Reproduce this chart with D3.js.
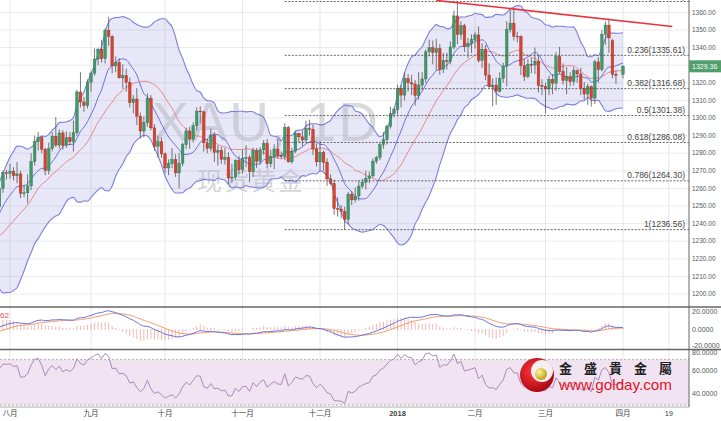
<!DOCTYPE html>
<html><head><meta charset="utf-8">
<script src="https://cdn.jsdelivr.net/npm/d3@7"></script>
<style>body{margin:0;background:#fff;} svg{display:block;font-family:"Liberation Sans",Arial,sans-serif;}</style>
</head><body><svg id="c" width="721" height="421"></svg>
<script>
// ---------- DATA ----------
const dates = [
"2017-07-27","2017-07-28","2017-07-31",
"2017-08-01","2017-08-02","2017-08-03","2017-08-04","2017-08-07","2017-08-08","2017-08-09","2017-08-10","2017-08-11","2017-08-14","2017-08-15","2017-08-16","2017-08-17","2017-08-18","2017-08-21","2017-08-22","2017-08-23","2017-08-24","2017-08-25","2017-08-28","2017-08-29","2017-08-30","2017-08-31",
"2017-09-01","2017-09-04","2017-09-05","2017-09-06","2017-09-07","2017-09-08","2017-09-11","2017-09-12","2017-09-13","2017-09-14","2017-09-15","2017-09-18","2017-09-19","2017-09-20","2017-09-21","2017-09-22","2017-09-25","2017-09-26","2017-09-27","2017-09-28","2017-09-29",
"2017-10-02","2017-10-03","2017-10-04","2017-10-05","2017-10-06","2017-10-09","2017-10-10","2017-10-11","2017-10-12","2017-10-13","2017-10-16","2017-10-17","2017-10-18","2017-10-19","2017-10-20","2017-10-23","2017-10-24","2017-10-25","2017-10-26","2017-10-27","2017-10-30","2017-10-31",
"2017-11-01","2017-11-02","2017-11-03","2017-11-06","2017-11-07","2017-11-08","2017-11-09","2017-11-10","2017-11-13","2017-11-14","2017-11-15","2017-11-16","2017-11-17","2017-11-20","2017-11-21","2017-11-22","2017-11-23","2017-11-24","2017-11-27","2017-11-28","2017-11-29","2017-11-30",
"2017-12-01","2017-12-04","2017-12-05","2017-12-06","2017-12-07","2017-12-08","2017-12-11","2017-12-12","2017-12-13","2017-12-14","2017-12-15","2017-12-18","2017-12-19","2017-12-20","2017-12-21","2017-12-22","2017-12-25","2017-12-26","2017-12-27","2017-12-28","2017-12-29",
"2018-01-01","2018-01-02","2018-01-03","2018-01-04","2018-01-05","2018-01-08","2018-01-09","2018-01-10","2018-01-11","2018-01-12","2018-01-15","2018-01-16","2018-01-17","2018-01-18","2018-01-19","2018-01-22","2018-01-23","2018-01-24","2018-01-25","2018-01-26","2018-01-29","2018-01-30","2018-01-31",
"2018-02-01","2018-02-02","2018-02-05","2018-02-06","2018-02-07","2018-02-08","2018-02-09","2018-02-12","2018-02-13","2018-02-14","2018-02-15","2018-02-16","2018-02-19","2018-02-20","2018-02-21","2018-02-22","2018-02-23","2018-02-26","2018-02-27","2018-02-28",
"2018-03-01","2018-03-02","2018-03-05","2018-03-06","2018-03-07","2018-03-08","2018-03-09","2018-03-12","2018-03-13","2018-03-14","2018-03-15","2018-03-16","2018-03-19","2018-03-20","2018-03-21","2018-03-22","2018-03-23","2018-03-26","2018-03-27","2018-03-28","2018-03-29",
"2018-04-02"];
const open = [1249.5,1259.9,1268.9,
1268.5,1269.6,1267.2,1268.2,1257.2,1257.5,1261.4,1275.2,1286.6,1288.9,1282.2,1270.2,1282.6,1289.6,1284.6,1291.5,1284.5,1288.8,1286.5,1291.6,1314.8,1309.1,1307.1,
1320.4,1325.5,1333.5,1339.0,1333.7,1349.7,1346.4,1329.6,1331.5,1322.8,1324.0,1320.3,1308.8,1310.8,1301.0,1292.6,1297.3,1311.1,1294.4,1283.8,1286.5,
1279.6,1271.6,1274.1,1276.4,1268.8,1274.3,1284.8,1292.6,1288.0,1295.6,1303.9,1303.5,1285.9,1282.8,1290.3,1280.5,1281.6,1276.5,1277.6,1265.9,1266.4,1275.9,
1270.6,1277.2,1277.4,1269.5,1281.4,1275.3,1281.9,1285.6,1274.0,1278.3,1282.4,1278.7,1278.1,1294.7,1275.1,1281.1,1291.3,1289.3,1287.5,1294.1,1293.6,1282.4,
1275.1,1280.5,1274.8,1265.4,1262.9,1248.5,1248.2,1247.0,1242.4,1256.7,1253.5,1255.7,1261.3,1263.5,1265.7,1267.1,1275.5,1277.6,1284.9,1287.8,1295.3,
1302.6,1304.7,1316.8,1313.0,1322.3,1320.0,1319.3,1312.8,1318.7,1322.2,1337.6,1339.9,1337.2,1339.4,1327.7,1332.6,1332.1,1340.3,1358.0,1347.5,1352.4,1340.6,1342.5,
1344.6,1347.2,1332.8,1339.0,1324.4,1317.9,1318.7,1315.2,1322.5,1329.5,1350.2,1353.9,1346.5,1346.2,1329.7,1323.5,1330.5,1330.1,1332.3,1318.4,
1317.9,1316.5,1321.9,1319.8,1334.8,1326.5,1321.3,1323.6,1320.6,1326.9,1325.0,1316.8,1313.6,1317.8,1311.3,1331.9,1327.5,1347.5,1352.8,1344.0,1324.8,
1324.8];
const high = [1264.5,1270.0,1270.5,
1274.0,1272.0,1275.0,1270.0,1262.0,1268.0,1280.0,1290.0,1292.0,1290.0,1283.0,1286.0,1292.0,1300.5,1293.5,1293.0,1292.5,1292.0,1298.5,1316.0,1326.0,1312.0,1322.0,
1326.5,1339.5,1340.0,1344.5,1351.0,1357.5,1347.0,1335.0,1334.0,1330.5,1328.0,1323.0,1313.0,1317.0,1303.0,1301.0,1314.0,1313.0,1296.5,1290.0,1289.0,
1280.5,1276.5,1283.0,1279.5,1280.0,1286.0,1294.5,1295.0,1297.5,1306.0,1306.5,1304.0,1288.0,1294.0,1292.0,1284.5,1283.5,1283.0,1280.5,1274.0,1276.5,1278.5,
1282.0,1284.5,1279.0,1283.0,1283.0,1283.5,1287.5,1288.0,1282.0,1285.0,1288.0,1281.0,1297.0,1295.5,1283.0,1293.0,1291.5,1293.0,1298.5,1299.0,1296.0,1285.5,
1287.0,1281.5,1277.0,1268.0,1265.0,1255.0,1250.5,1249.5,1258.0,1258.5,1260.5,1264.5,1265.5,1270.0,1269.5,1277.0,1278.5,1286.0,1292.0,1296.0,1306.5,
1306.0,1319.0,1318.5,1326.0,1325.0,1324.5,1321.5,1326.0,1326.0,1339.0,1344.5,1344.0,1345.0,1342.0,1337.0,1337.0,1343.5,1361.0,1366.2,1355.0,1353.5,1345.5,1347.5,
1349.0,1352.0,1342.5,1341.5,1331.0,1322.5,1323.0,1326.0,1331.5,1355.0,1361.5,1362.5,1349.0,1347.0,1333.5,1333.5,1334.0,1340.0,1336.0,1322.0,
1320.0,1324.0,1325.0,1337.5,1340.5,1331.0,1329.0,1326.0,1329.0,1327.5,1328.5,1320.5,1319.5,1318.5,1333.0,1334.5,1350.0,1355.0,1356.5,1345.0,1327.0,
1330.0];
const low = [1248.5,1257.5,1265.0,
1265.5,1264.5,1263.0,1254.5,1255.0,1251.5,1259.0,1273.0,1281.5,1280.0,1267.5,1268.0,1281.0,1283.5,1282.5,1282.0,1283.0,1284.5,1281.0,1290.0,1306.0,1303.5,1305.5,
1315.0,1324.0,1330.0,1331.5,1331.0,1341.0,1325.5,1326.0,1322.5,1316.5,1315.0,1306.0,1302.5,1296.0,1288.5,1289.0,1295.0,1293.0,1281.5,1277.5,1277.5,
1268.5,1267.5,1271.5,1266.5,1260.0,1272.5,1282.5,1282.5,1286.0,1293.0,1297.0,1281.0,1280.0,1281.0,1275.0,1273.0,1274.0,1273.5,1262.5,1263.0,1265.0,1268.0,
1268.5,1272.0,1263.5,1266.5,1271.5,1273.5,1279.0,1271.5,1272.0,1271.0,1277.0,1277.0,1276.0,1274.5,1274.0,1280.0,1286.0,1284.0,1286.0,1290.0,1279.0,1272.5,
1270.0,1270.0,1261.5,1262.0,1245.0,1244.0,1243.0,1236.5,1239.5,1250.5,1252.0,1253.0,1260.0,1259.5,1263.0,1266.0,1274.0,1276.0,1282.5,1285.0,1294.0,
1300.5,1302.0,1306.0,1310.0,1315.0,1313.0,1307.0,1310.5,1316.0,1320.0,1335.0,1330.5,1327.0,1324.5,1325.5,1327.5,1330.5,1339.0,1342.0,1344.5,1337.5,1334.0,1337.0,
1339.5,1331.5,1328.5,1321.5,1316.5,1306.5,1307.5,1314.5,1320.0,1318.0,1348.5,1344.0,1343.0,1324.5,1321.0,1322.5,1325.5,1325.0,1314.5,1313.0,
1302.5,1313.0,1313.5,1315.5,1325.0,1319.0,1313.5,1318.0,1318.5,1320.0,1313.0,1310.5,1307.5,1306.5,1308.0,1320.0,1326.5,1341.5,1337.0,1322.5,1319.5,
1322.5];
const close = [1259.9,1268.9,1268.5,
1269.6,1267.2,1268.2,1257.2,1257.5,1261.4,1275.2,1286.6,1288.9,1282.2,1270.2,1282.6,1289.6,1284.6,1291.5,1284.5,1288.8,1286.5,1291.6,1314.8,1309.1,1307.1,1320.4,
1325.5,1333.5,1339.0,1333.7,1349.7,1346.4,1329.6,1331.5,1322.8,1324.0,1320.3,1308.8,1310.8,1301.0,1292.6,1297.3,1311.1,1294.4,1283.8,1286.5,1279.6,
1271.6,1274.1,1276.4,1268.8,1274.3,1284.8,1292.6,1288.0,1295.6,1303.9,1303.5,1285.9,1282.8,1290.3,1280.5,1281.6,1276.5,1277.6,1265.9,1266.4,1275.9,1270.6,
1277.2,1277.4,1269.5,1281.4,1275.3,1281.9,1285.6,1274.0,1278.3,1282.4,1278.7,1278.1,1294.7,1275.1,1281.1,1291.3,1289.3,1287.5,1294.1,1293.6,1282.4,1275.1,
1280.5,1274.8,1265.4,1262.9,1248.5,1248.2,1247.0,1242.4,1256.7,1253.5,1255.7,1261.3,1263.5,1265.7,1267.1,1275.5,1277.6,1284.9,1287.8,1295.3,1302.6,
1304.7,1316.8,1313.0,1322.3,1320.0,1319.3,1312.8,1318.7,1322.2,1337.6,1339.9,1337.2,1339.4,1327.7,1332.6,1332.1,1340.3,1358.0,1347.5,1352.4,1340.6,1342.5,1344.6,
1347.2,1332.8,1339.0,1324.4,1317.9,1318.7,1315.2,1322.5,1329.5,1350.2,1353.9,1346.5,1346.2,1329.7,1323.5,1330.5,1330.1,1332.3,1318.4,1317.9,
1316.5,1322.0,1319.8,1334.8,1326.5,1321.3,1323.6,1320.6,1326.9,1325.0,1316.8,1313.6,1317.8,1311.3,1331.9,1327.5,1347.5,1352.8,1345.5,1324.8,1324.3,
1329.4];
// closes before the visible window (Jun 1 - Jul 26 2017), only used to warm up the indicators
const priorCloses = [1263.5,1279.4,1280.7,1293.5,1286.9,1279.6,1271.3,1265.9,1267.6,1274.4,1254.2,1254.9,1245.7,1242.5,1246.3,1249.2,1256.3,1245.8,1251.6,1248.9,1244.4,1241.6,
1219.7,1225.3,1222.7,1223.6,1212.4,1213.0,1214.1,1218.6,1217.5,1228.3,1233.7,1241.2,1241.6,1245.3,1254.5,1254.9,1248.6,1249.4];

const priceTicks = [1200,1210,1220,1230,1240,1250,1260,1270,1280,1290,1300,1310,1320,1330,1340,1350,1360];
const timeTickDates = ["2017-08-01","2017-09-01","2017-10-02","2017-11-01","2017-12-01","2018-01-02","2018-02-01","2018-03-01","2018-04-02","2018-04-19"];
const timeTickLabels = ["八月","九月","十月","十一月","十二月","2018","二月","三月","四月","19"];
const fibLevels = ["0","0.236","0.382","0.5","0.618","0.786","1"];
const fibPrices = [1366.20,1335.61,1316.68,1301.38,1286.08,1264.30,1236.56];
const fibStartDate = "2017-11-17";
const trendDates = ["2018-01-17","2018-04-20"];
const trendPrices = [1366.8,1352.0];
const lastPrice = 1329.36;
const macdTicks = [20,0,-20];
const rsiTicks = [80,60,40];
const rsiBand = [70,30];

// ---------- SETUP ----------
const svg = d3.select("#c");
const W = 721, AX = 689;
const parse = d3.timeParse("%Y-%m-%d");
const t0 = parse("2017-08-01");
function wIdx(s){
  const d = parse(s);
  const wk = x => x.getDay()%6!==0;
  if (d >= t0) return d3.timeDays(t0, d).filter(wk).length;
  return -d3.timeDays(d, t0).filter(wk).length;
}
const x = d3.scaleLinear().domain([0,174]).range([10,623]);
const y = d3.scaleLinear().domain([1200,1360]).range([294,12.4]);
const yM = d3.scaleLinear().domain([-20,20]).range([347,311]);
const yR = d3.scaleLinear().domain([30,70]).range([405,359.6]);

const N = dates.length, P = priorCloses.length;
const xs = dates.map(wIdx).map(x);
const all = priorCloses.concat(close);

// indicators (Bollinger 20/2, MA10, MACD 12/26/9, RSI 14)
function sma(n){ return all.map((v,j)=> j<n-1?null:d3.mean(all.slice(j-n+1,j+1))); }
function sd(n){ return all.map((v,j)=>{ if(j<n-1) return null; const w=all.slice(j-n+1,j+1), m=d3.mean(w); return Math.sqrt(d3.mean(w.map(u=>(u-m)*(u-m)))); }); }
function ema(arr,n){ const a=2/(n+1); const out=[]; arr.forEach((v,j)=>{out.push(j===0?v:out[j-1]+a*(v-out[j-1]));}); return out; }
const mid = sma(20), dev = sd(20), ma10 = sma(10);
const e12 = ema(all,12), e26 = ema(all,26);
const macd = e12.map((v,j)=>v-e26[j]);
const sig = ema(macd,9);
const rsi = (()=>{ const out=new Array(all.length).fill(null); let g=0,l=0;
  for(let j=1;j<=14;j++){const ch=all[j]-all[j-1]; if(ch>0)g+=ch; else l-=ch;} g/=14; l/=14; out[14]=100-100/(1+g/l);
  for(let j=15;j<all.length;j++){const ch=all[j]-all[j-1]; g=(g*13+Math.max(ch,0))/14; l=(l*13+Math.max(-ch,0))/14; out[j]=100-100/(1+g/l);} return out; })();

const vis = d3.range(N);
const V = k => P+k;

// clip paths
const defs = svg.append("defs");
defs.append("clipPath").attr("id","cm").append("rect").attr("x",0).attr("y",0).attr("width",AX).attr("height",306);
defs.append("clipPath").attr("id","cd").append("rect").attr("x",0).attr("y",308).attr("width",AX).attr("height",41);
defs.append("clipPath").attr("id","cr").append("rect").attr("x",0).attr("y",351).attr("width",AX).attr("height",56);

// ---------- GRID ----------
const grid = svg.append("g");
grid.selectAll("line.h").data(priceTicks).join("line")
  .attr("x1",0).attr("x2",AX).attr("y1",d=>y(d)).attr("y2",d=>y(d)).attr("stroke","#ececec");
grid.selectAll("line.v").data(timeTickDates).join("line")
  .attr("x1",d=>x(wIdx(d))).attr("x2",d=>x(wIdx(d))).attr("y1",0).attr("y2",407).attr("stroke","#e6e6e6");

// ---------- MAIN PANEL ----------
const main = svg.append("g").attr("clip-path","url(#cm)");
const bandArea = d3.area().x(k=>xs[k]).y0(k=>y(mid[V(k)]-2*dev[V(k)])).y1(k=>y(mid[V(k)]+2*dev[V(k)])).curve(d3.curveMonotoneX);
main.append("path").datum(vis).attr("d",bandArea).attr("fill","#7a7ad6").attr("fill-opacity",0.18);

// watermark
main.append("text").attr("x",152).attr("y",141).attr("font-size",55).attr("fill","#b9b9c2").attr("fill-opacity",0.55)
  .attr("font-family","Liberation Sans, Arial").attr("letter-spacing",2).text("XAU, 1D");
main.append("text").attr("x",197).attr("y",190).attr("font-size",25).attr("fill","#b9b9c2").attr("fill-opacity",0.6)
  .attr("font-family","Noto Sans CJK SC").attr("letter-spacing",2).text("现货黄金");

const lineOf = (arr,sc)=> d3.line().x(k=>xs[k]).y(k=>sc(arr(k))).curve(d3.curveMonotoneX);
main.append("path").datum(vis).attr("d",lineOf(k=>mid[V(k)]+2*dev[V(k)],y)).attr("fill","none").attr("stroke","#7c80dc").attr("stroke-width",1.1);
main.append("path").datum(vis).attr("d",lineOf(k=>mid[V(k)]-2*dev[V(k)],y)).attr("fill","none").attr("stroke","#7c80dc").attr("stroke-width",1.1);
main.append("path").datum(vis).attr("d",lineOf(k=>mid[V(k)],y)).attr("fill","none").attr("stroke","#e48a8a").attr("stroke-width",1);
main.append("path").datum(vis).attr("d",lineOf(k=>ma10[V(k)],y)).attr("fill","none").attr("stroke","#6a70dc").attr("stroke-width",1);

// candles
const cg = main.append("g");
const bw = 2.6;
vis.forEach(k=>{
  const up = close[k] >= open[k];
  const col = up ? "#3f9a68" : "#d8432e";
  const edge = up ? "#2d6e4b" : "#9a2e20";
  cg.append("line").attr("x1",xs[k]).attr("x2",xs[k]).attr("y1",y(high[k])).attr("y2",y(low[k])).attr("stroke","#555").attr("stroke-width",0.8);
  const top = y(Math.max(open[k],close[k])), bot = y(Math.min(open[k],close[k]));
  cg.append("rect").attr("x",xs[k]-bw/2).attr("y",top).attr("width",bw).attr("height",Math.max(bot-top,0.8))
    .attr("fill",col).attr("stroke",edge).attr("stroke-width",0.4);
});

// fibonacci
const fx0 = x(wIdx(fibStartDate));
const fg = main.append("g");
fibPrices.forEach((p,i)=>{
  fg.append("line").attr("x1",fx0).attr("x2",AX).attr("y1",y(p)).attr("y2",y(p))
    .attr("stroke","#555").attr("stroke-width",0.9).attr("stroke-dasharray","2,1.5");
  fg.append("text").attr("x",685).attr("y",y(p)-2.5).attr("text-anchor","end").attr("font-size",8.5).attr("fill","#444")
    .text(fibLevels[i]+"("+p.toFixed(2)+")");
});

// trend line
main.append("line").attr("x1",x(wIdx(trendDates[0]))).attr("y1",y(trendPrices[0]))
  .attr("x2",x(wIdx(trendDates[1]))).attr("y2",y(trendPrices[1])).attr("stroke","#e8343c").attr("stroke-width",1.6);

// ---------- MACD PANEL ----------
const mg = svg.append("g").attr("clip-path","url(#cd)");
vis.forEach(k=>{
  const h = 2*(macd[V(k)]-sig[V(k)]);
  mg.append("line").attr("x1",xs[k]).attr("x2",xs[k]).attr("y1",yM(0)+0.5).attr("y2",yM(h))
    .attr("stroke","#e87a6a").attr("stroke-width",0.9).attr("stroke-dasharray","1.2,0.8");
});
mg.append("path").datum(vis).attr("d",lineOf(k=>sig[V(k)],yM)).attr("fill","none").attr("stroke","#f2a070").attr("stroke-width",1);
mg.append("path").datum(vis).attr("d",lineOf(k=>macd[V(k)],yM)).attr("fill","none").attr("stroke","#6b72e0").attr("stroke-width",1);
svg.append("text").attr("x",9).attr("y",318).attr("text-anchor","end").attr("font-size",8).attr("fill","#e05050").text("0.4862");

// ---------- RSI PANEL ----------
const rg = svg.append("g").attr("clip-path","url(#cr)");
rg.append("rect").attr("x",0).attr("width",AX).attr("y",yR(rsiBand[0])).attr("height",yR(rsiBand[1])-yR(rsiBand[0])).attr("fill","#f2e3f2");
rsiBand.forEach(v=> rg.append("line").attr("x1",0).attr("x2",AX).attr("y1",yR(v)).attr("y2",yR(v)).attr("stroke","#999").attr("stroke-dasharray","2,2").attr("stroke-width",0.8));
rg.append("path").datum(vis).attr("d",d3.line().x(k=>xs[k]).y(k=>yR(rsi[V(k)]))).attr("fill","none").attr("stroke","#a88ab8").attr("stroke-width",1);

// ---------- SEPARATORS / AXES ----------
[307,349.5].forEach(yy=> svg.append("line").attr("x1",0).attr("x2",W).attr("y1",yy).attr("y2",yy).attr("stroke","#666").attr("stroke-width",1.3));
svg.append("line").attr("x1",0).attr("x2",AX).attr("y1",407).attr("y2",407).attr("stroke","#999").attr("stroke-width",0.8);
svg.append("line").attr("x1",AX).attr("x2",AX).attr("y1",0).attr("y2",407).attr("stroke","#666").attr("stroke-width",1);

const ax = svg.append("g").attr("font-size",6.5).attr("fill","#555");
priceTicks.filter(p=>Math.abs(y(p)-y(lastPrice))>7).forEach(p=> ax.append("text").attr("x",692).attr("y",y(p)+2.2).text(p.toFixed(2)));
macdTicks.forEach(v=> ax.append("text").attr("x",692).attr("y",yM(v)+(v<0?1:2.5)).attr("font-size",7).text(v.toFixed(4)));
rsiTicks.forEach(v=> ax.append("text").attr("x",692).attr("y",yR(v)+(v>70?6.5:2.5)).attr("font-size",7).text(v.toFixed(4)));

// last price tag
svg.append("rect").attr("x",AX).attr("y",y(lastPrice)-6).attr("width",W-AX).attr("height",12).attr("fill","#4f9e6c");
svg.append("text").attr("x",692).attr("y",y(lastPrice)+2.5).attr("font-size",7).attr("fill","#fff").text(lastPrice.toFixed(2));

// time labels
const tl = svg.append("g").attr("font-size",7.5).attr("fill","#444").attr("text-anchor","middle");
timeTickDates.forEach((d,i)=> tl.append("text").attr("x",x(wIdx(d))).attr("y",416)
  .attr("font-weight",timeTickLabels[i]==="2018"?"bold":"normal")
  .attr("font-family",/\d/.test(timeTickLabels[i])?"Liberation Sans":"Noto Sans CJK SC").text(timeTickLabels[i]));

// ---------- LOGO ----------
const lg = svg.append("g");
const rgd = defs.append("radialGradient").attr("id","rg").attr("cx","40%").attr("cy","40%").attr("r","70%");
rgd.append("stop").attr("offset","0%").attr("stop-color","#ff3a3a");
rgd.append("stop").attr("offset","100%").attr("stop-color","#a00010");
const gg = defs.append("radialGradient").attr("id","gg").attr("cx","35%").attr("cy","35%").attr("r","70%");
gg.append("stop").attr("offset","0%").attr("stop-color","#fff6a0");
gg.append("stop").attr("offset","100%").attr("stop-color","#c09a10");
lg.append("circle").attr("cx",537).attr("cy",375).attr("r",17).attr("fill","url(#rg)");
lg.append("circle").attr("cx",542).attr("cy",371).attr("r",11).attr("fill","#f4eef0");
lg.append("circle").attr("cx",541).attr("cy",374).attr("r",6).attr("fill","url(#gg)");
lg.append("text").attr("x",559).attr("y",373).attr("font-size",13).attr("font-family","Noto Sans CJK TC").attr("font-weight","bold")
  .attr("fill","#222").attr("textLength",113).attr("lengthAdjust","spacing").text("金盛貴金屬");
lg.append("text").attr("x",559).attr("y",390).attr("font-size",14.5).attr("font-family","Liberation Sans, Arial")
  .attr("fill","#e0141e").attr("textLength",113).attr("lengthAdjust","spacingAndGlyphs").text("www.golday.com");
</script></body></html>
